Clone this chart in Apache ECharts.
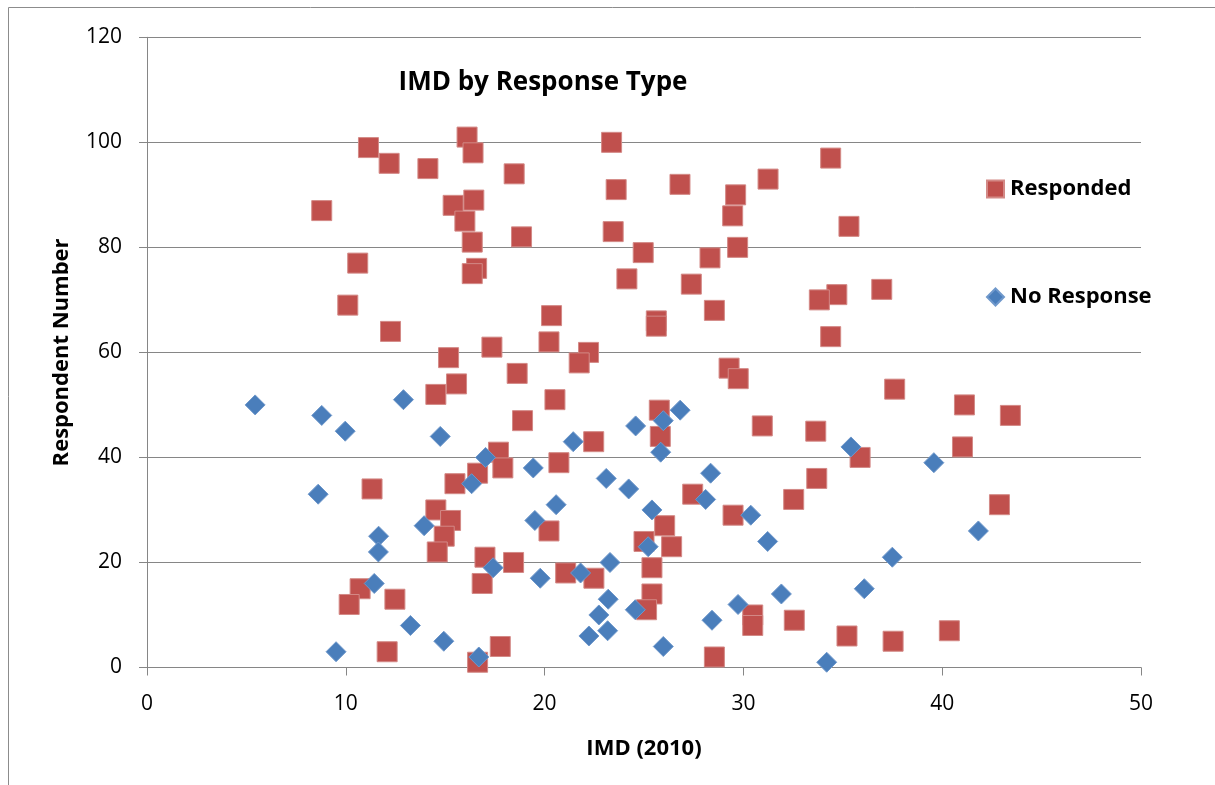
<!DOCTYPE html>
<html>
<head>
<meta charset="utf-8">
<title>IMD by Response Type</title>
<script src="https://cdn.jsdelivr.net/npm/echarts@6/dist/echarts.min.js"></script>
<style>
  html, body { margin: 0; padding: 0; background: #fff; }
  #chart { width: 1215px; height: 785px; }
</style>
</head>
<body>
<div id="chart"></div>
<script>
// respondent number -> IMD (2010)
const respondedY = [
  101, 100, 99, 98, 97, 96, 95, 94, 93, 92, 91, 90, 89, 88, 87, 86, 85, 84, 83, 82,
  81, 80, 79, 78, 77, 76, 75, 74, 73, 72, 71, 70, 69, 68, 67, 66, 65, 64, 63, 62,
  61, 60, 59, 58, 57, 56, 55, 54, 53, 52, 51, 50, 49, 48, 47, 46, 45, 44, 43, 42,
  41, 40, 39, 38, 37, 36, 35, 34, 33, 32, 31, 30, 29, 28, 27, 26, 25, 24, 23, 22,
  21, 20, 19, 18, 17, 16, 15, 14, 13, 12, 11, 10, 9, 8, 7, 6, 5, 4, 3, 2, 1
];
const respondedX = [
  16.1, 23.37, 11.14, 16.4, 34.39, 12.18, 14.13, 18.47, 31.24, 26.81,
  23.6, 29.61, 16.44, 15.4, 8.79, 29.46, 15.99, 35.31, 23.45, 18.84,
  16.36, 29.71, 24.96, 28.32, 10.6, 16.58, 16.36, 24.14, 27.38, 36.96,
  34.7, 33.82, 10.1, 28.54, 20.35, 25.62, 25.62, 12.25, 34.39, 20.22,
  17.35, 22.21, 15.17, 21.74, 29.28, 18.62, 29.74, 15.57, 37.61, 14.53,
  20.52, 41.12, 25.77, 43.43, 18.89, 30.95, 33.64, 25.82, 22.47, 41.02,
  17.68, 35.87, 20.72, 17.9, 16.63, 33.69, 15.49, 11.32, 27.45, 32.53,
  42.88, 14.53, 29.48, 15.27, 26.04, 20.22, 14.95, 25.0, 26.39, 14.6,
  17.0, 18.44, 25.4, 21.06, 22.48, 16.86, 10.72, 25.4, 12.47, 10.17,
  25.13, 30.47, 32.56, 30.47, 40.36, 35.21, 37.53, 17.77, 12.08, 28.54,
  16.63
];

const noResponseY = [
  51, 50, 49, 48, 47, 46, 45, 44, 43, 42, 41, 40, 39, 38, 37, 36, 35, 34, 33, 32,
  31, 30, 29, 28, 27, 26, 25, 24, 23, 22, 21, 20, 19, 18, 17, 16, 15, 14, 13, 12,
  11, 10, 9, 8, 7, 6, 5, 4, 3, 2, 1
];
const noResponseX = [
  12.9, 5.44, 26.82, 8.79, 25.97, 24.58, 9.97, 14.75, 21.44, 35.41,
  25.84, 17.03, 39.58, 19.43, 28.35, 23.1, 16.33, 24.23, 8.61, 28.1,
  20.58, 25.4, 30.37, 19.51, 13.94, 41.82, 11.65, 31.22, 25.21, 11.64,
  37.49, 23.29, 17.41, 21.81, 19.78, 11.43, 36.08, 31.91, 23.2, 29.73,
  24.56, 22.73, 28.42, 13.25, 23.17, 22.23, 14.93, 25.97, 9.51, 16.69,
  34.19
];

const seriesNames = ['Responded', 'No Response'];
const xTicks = { min: 0, max: 50, interval: 10 };
const yTicks = { min: 0, max: 120, interval: 20 };

const FONT = '"Open Sans"';
const GREY = '#868686';

const chart = echarts.init(document.getElementById('chart'), null, { renderer: 'canvas' });

const option = {
  backgroundColor: '#ffffff',
  animation: false,
  textStyle: { fontFamily: FONT },
  title: {
    text: 'IMD by Response Type',
    left: 543,
    top: 70,
    padding: 0,
    textAlign: 'center',
    textStyle: { fontFamily: FONT, fontSize: 26, fontWeight: 'bold', color: '#000' }
  },
  legend: {
    orient: 'vertical',
    left: 986,
    top: 178,
    padding: 0,
    itemWidth: 17,
    itemHeight: 17,
    itemGap: 86,
    selectedMode: false,
    textStyle: { fontFamily: FONT, fontSize: 22, fontWeight: 'bold', color: '#000', padding: [0, 0, 0, 1] },
    data: [
      { name: seriesNames[0], icon: 'rect' },
      { name: seriesNames[1], icon: 'diamond' }
    ]
  },
  graphic: [{
    type: 'rect',
    shape: { x: 8.5, y: 7.5, width: 1300, height: 900 },
    style: { fill: 'none', stroke: '#8c8c8c', lineWidth: 1 },
    silent: true
  }],
  grid: {
    left: 147,
    right: 74,
    top: 37.3,
    bottom: 117.5,
    containLabel: false,
    outerBoundsMode: 'none'
  },
  xAxis: {
    type: 'value',
    min: xTicks.min,
    max: xTicks.max,
    interval: xTicks.interval,
    name: 'IMD (2010)',
    nameLocation: 'middle',
    nameGap: 70,
    nameTextStyle: { fontFamily: FONT, fontSize: 22, fontWeight: 'bold', color: '#000' },
    axisLine: { onZero: false, lineStyle: { color: GREY, width: 1 } },
    axisTick: { show: true, length: 8, lineStyle: { color: GREY } },
    axisLabel: { fontFamily: FONT, fontSize: 21, color: '#000', margin: 26 },
    splitLine: { show: false }
  },
  yAxis: {
    type: 'value',
    min: yTicks.min,
    max: yTicks.max,
    interval: yTicks.interval,
    name: 'Respondent Number',
    nameLocation: 'middle',
    nameGap: 74,
    nameTextStyle: { fontFamily: FONT, fontSize: 22, fontWeight: 'bold', color: '#000' },
    axisLine: { show: true, onZero: false, lineStyle: { color: GREY, width: 1 } },
    axisTick: { show: true, length: 8, lineStyle: { color: GREY } },
    axisLabel: { fontFamily: FONT, fontSize: 21, color: '#000', margin: 25 },
    splitLine: { show: true, lineStyle: { color: GREY, width: 1 } }
  },
  series: [
    {
      name: seriesNames[0],
      type: 'scatter',
      symbol: 'rect',
      symbolSize: 20,
      itemStyle: { color: '#C0504D', borderColor: '#D38986', borderWidth: 1, opacity: 1 },
      data: respondedX.map((x, i) => [x, respondedY[i]])
    },
    {
      name: seriesNames[1],
      type: 'scatter',
      symbol: 'diamond',
      symbolSize: 20,
      itemStyle: { color: '#4A7EBB', borderColor: '#6F98CB', borderWidth: 1, opacity: 1 },
      data: noResponseX.map((x, i) => [x, noResponseY[i]])
    }
  ]
};

chart.setOption(option);
</script>
</body>
</html>
